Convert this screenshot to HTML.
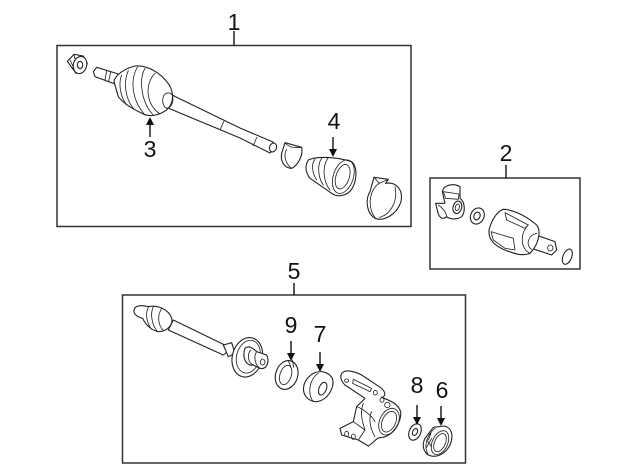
<!DOCTYPE html>
<html><head><meta charset="utf-8"><style>
html,body{margin:0;padding:0;background:#fff}
svg{display:block}
text{font-family:"Liberation Sans",sans-serif;font-size:23px;fill:#111;text-anchor:middle}
.b{fill:none;stroke:#333;stroke-width:1.5}
.z path,.z ellipse,.z circle{fill:#fff;stroke:#222;stroke-width:3.3;stroke-linejoin:round;stroke-linecap:round}
.z path.n,.z ellipse.n{fill:none;stroke-width:2.5}
.a{stroke:#111;stroke-width:1.4;fill:none}
.s{fill:#fff;stroke:#222;stroke-width:1.1;stroke-linejoin:round}
</style></head><body>
<svg width="640" height="471" viewBox="0 0 640 471">
<rect width="640" height="471" fill="#fff"/>
<rect class="b" x="57" y="45.5" width="354" height="181"/>
<rect class="b" x="430" y="178" width="150" height="91"/>
<rect class="b" x="122.5" y="295" width="343" height="168"/>
<path class="a" d="M234 31V45M506 165V178M294 283V295"/>

<path class="s" d="M172 95L240 128L273 142L276 148L270 153L240 138L168 108Z"/>
<path class="a" style="stroke-width:.9;stroke:#333" d="M224 121L220 130M257 137L253 146"/>
<ellipse cx="273" cy="147.500" rx="3.500" ry="4.500" class="s" transform="rotate(20 273 147.500)"/>

<g class="z" transform="translate(50,40) scale(.3333)">
<path d="M52 64L72 43L100 48L112 70L100 95L78 100Z"/>
<ellipse cx="90" cy="75" rx="20" ry="26" transform="rotate(15 90 75)"/>
<ellipse cx="90" cy="75" rx="8" ry="11"/>
<path class="n" d="M60 60L72 85M72 44L76 60"/>
<path d="M130 95L140 82L205 102L195 132L135 110Z"/>
<path class="n" d="M170 92L165 120M182 96L176 124"/>
<path d="M192 125C195 105 225 85 255 78C290 75 330 95 358 135C372 160 372 190 350 210C330 225 300 232 280 222C255 210 225 195 205 170Z"/>
<path class="n" d="M215 105C205 130 210 170 230 195M235 92C220 125 225 175 250 205M262 82C240 120 245 180 285 225M285 85C265 120 275 190 310 225M315 100C285 130 285 190 330 222"/>
<path class="n" d="M340 170C345 155 365 155 368 170C372 190 360 205 350 205C340 200 335 185 340 170Z"/>
</g>

<g class="z" transform="translate(220,100) scale(.3333)">
<path d="M195 128L245 142C250 165 235 195 215 205C195 205 180 185 185 160Z"/>
<path class="n" d="M195 128C205 140 215 145 245 142M200 148C190 165 195 190 215 205"/>
<path d="M265 180C285 170 340 168 395 185C412 200 412 235 397 265C382 290 350 292 335 280L270 235C255 215 255 195 265 180Z"/>
<path class="n" d="M285 178C270 195 280 225 290 240M305 175C290 195 295 235 310 255M325 172C305 200 310 245 330 270"/>
<ellipse class="n" cx="370" cy="230" rx="30" ry="52" transform="rotate(18 370 230)"/>
<ellipse class="n" cx="368" cy="230" rx="20" ry="38" transform="rotate(18 368 230)"/>
<path d="M462 232L505 238L497 250C530 245 550 270 543 305C530 345 490 365 465 355C440 340 435 300 450 275Z"/>
<path class="n" d="M462 232L478 250L505 238M478 250C450 265 440 320 465 352M478 352C510 345 535 305 525 260"/>
</g>

<g class="z" transform="translate(425,170) scale(.3333)">
<path d="M52 65C55 45 85 38 105 50L105 85C120 95 122 125 110 140C95 150 75 148 65 140C55 150 42 145 38 125L32 100L60 100Z"/>
<path class="n" d="M55 65L102 72L100 88L62 85ZM40 105C55 115 65 130 65 140"/>
<ellipse cx="97" cy="112" rx="13" ry="19" transform="rotate(15 97 112)"/>
<ellipse class="n" cx="97" cy="112" rx="6" ry="10" transform="rotate(15 97 112)"/>
<ellipse cx="157" cy="138" rx="20" ry="25" transform="rotate(25 157 138)"/>
<ellipse cx="156" cy="138" rx="9" ry="12" transform="rotate(25 156 138)"/>
<path d="M318 190L390 215L395 240L380 255L320 235Z"/>
<ellipse class="n" cx="376" cy="234" rx="8" ry="9"/>
<path d="M235 118C260 118 300 135 335 165C350 185 340 225 315 250C290 260 265 250 235 238C205 225 190 205 192 180C200 150 215 125 235 118Z"/>
<path class="n" d="M240 128L310 165L300 175L245 150ZM198 185L265 205L270 240L240 235L205 210Z"/>
<path class="n" d="M310 165C285 190 285 235 315 250M335 190C310 195 300 225 320 238"/>
<ellipse cx="427" cy="260" rx="13" ry="24" transform="rotate(22 427 260)"/>
</g>

<g class="z" transform="translate(120,290) scale(.3333)">
<path d="M160 90L335 175L310 195L145 120Z"/>
<path d="M42 60C45 45 65 45 85 50C110 45 145 55 155 85C160 105 140 125 115 125C90 120 75 100 68 85C50 80 40 72 42 60Z"/>
<path class="n" d="M85 52C75 70 80 100 95 118M100 50C90 70 95 105 112 124M125 55C110 80 115 105 130 122"/>
<path d="M310 165L335 158L345 190L325 200Z"/>
<ellipse cx="382" cy="202" rx="45" ry="60" transform="rotate(15 382 202)"/>
<ellipse class="n" cx="385" cy="200" rx="35" ry="50" transform="rotate(15 385 200)"/>
<path d="M375 175C385 165 400 175 410 185L440 195C450 215 440 240 420 235L400 225C380 230 365 205 375 175Z"/>
<path class="n" d="M392 180C380 195 385 220 400 225M410 185C400 200 405 225 420 235"/>
<ellipse class="n" cx="428" cy="216" rx="7" ry="9"/>
<ellipse cx="500" cy="255" rx="33" ry="44" transform="rotate(18 500 255)"/>
<ellipse class="n" cx="497" cy="255" rx="17" ry="30" transform="rotate(18 497 255)"/>
<path class="n" d="M505 212L513 232M517 210L521 232"/>
</g>

<g class="z" transform="translate(300,340) scale(.3333)">
<path d="M40 100C60 90 85 95 97 115C105 140 85 180 50 185C25 185 5 165 12 135C17 118 30 105 40 100Z"/>
<path class="n" d="M55 100C30 115 20 160 40 185"/>
<ellipse cx="68" cy="146" rx="11" ry="20" transform="rotate(22 68 146)"/>
<path d="M125 100C135 88 160 92 185 105L245 145C260 160 255 170 245 172C265 180 295 190 302 215C305 245 280 285 250 292C230 290 225 305 205 318L175 300L125 285L120 265L160 245L170 200L195 175L135 135C122 122 120 110 125 100Z"/>
<path class="n" d="M160 118L215 145L210 155L158 130ZM170 200C185 205 215 225 225 245M190 190C180 215 185 240 195 270M215 215C205 235 210 265 225 290M160 245L195 270L175 300"/>
<ellipse class="n" cx="140" cy="122" rx="6" ry="5"/><ellipse class="n" cx="226" cy="158" rx="6" ry="7"/>
<ellipse class="n" cx="246" cy="180" rx="6" ry="7"/><ellipse class="n" cx="262" cy="195" rx="8" ry="8"/>
<ellipse class="n" cx="140" cy="282" rx="6" ry="8"/><ellipse class="n" cx="160" cy="290" rx="6" ry="8"/>
<ellipse class="n" cx="267" cy="245" rx="28" ry="42" transform="rotate(25 267 245)"/>
<ellipse class="n" cx="267" cy="245" rx="20" ry="33" transform="rotate(25 267 245)"/>
<ellipse cx="345" cy="276" rx="17" ry="26" transform="rotate(25 345 276)"/>
<ellipse cx="345" cy="276" rx="7" ry="11" transform="rotate(25 345 276)"/>
<path d="M400 262L435 258C455 265 462 285 450 315C435 345 405 355 385 345C370 335 365 315 375 295Z"/>
<path class="n" d="M405 265C380 285 370 320 385 345M393 280L385 300M380 300L395 320M395 295L378 325"/>
<ellipse class="n" cx="420" cy="308" rx="23" ry="38" transform="rotate(25 420 308)"/>
<ellipse class="n" cx="420" cy="308" rx="16" ry="29" transform="rotate(25 420 308)"/>
</g>

<path class="a" d="M150 124V137M333 137V152M291 341V355M320 352V367M417 405V420M441 406V421"/>
<path fill="#111" d="M150 117l-4 8h8zM333 157l-4-8h8zM291 361l-4-8h8zM320 372l-4-8h8zM417 425l-4-8h8zM441 426l-4-8h8z"/>

<text x="234" y="30">1</text>
<text x="506" y="161">2</text>
<text x="150" y="157">3</text>
<text x="334" y="129">4</text>
<text x="294" y="279">5</text>
<text x="442" y="398">6</text>
<text x="320" y="342">7</text>
<text x="417" y="393">8</text>
<text x="291" y="333">9</text>
</svg>
</body></html>
